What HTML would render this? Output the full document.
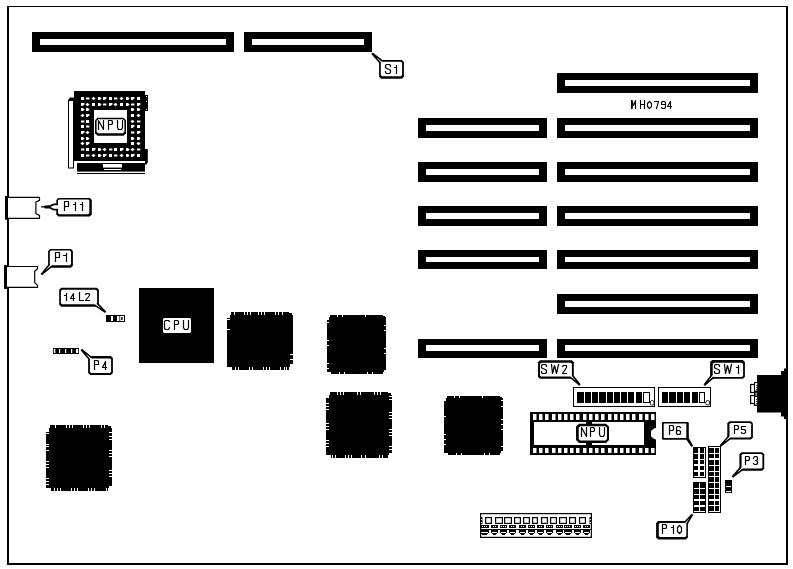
<!DOCTYPE html>
<html><head><meta charset="utf-8"><title>Motherboard layout</title>
<style>
html,body{margin:0;padding:0;background:#fff;}
body{width:793px;height:569px;overflow:hidden;font-family:"Liberation Sans",sans-serif;}
svg{display:block;}
</style></head><body>
<svg width="793" height="569" viewBox="0 0 793 569">
<rect x="0" y="0" width="793" height="569" fill="#fff"/>
<rect x="7" y="6" width="781" height="1" fill="#000" />
<rect x="7" y="6" width="2" height="559" fill="#000" />
<rect x="786" y="6" width="2" height="559" fill="#000" />
<rect x="7" y="563" width="781" height="2" fill="#000" />
<rect x="32" y="32" width="202" height="20" fill="#000" />
<rect x="40" y="39" width="186" height="6" fill="#fff" />
<rect x="244" y="32" width="128" height="20" fill="#000" />
<rect x="252" y="39" width="112" height="6" fill="#fff" />
<rect x="557" y="73" width="201" height="20" fill="#000" />
<rect x="565" y="80" width="185" height="6" fill="#fff" />
<rect x="557" y="118" width="201" height="20" fill="#000" />
<rect x="565" y="125" width="185" height="6" fill="#fff" />
<rect x="557" y="162" width="201" height="20" fill="#000" />
<rect x="565" y="169" width="185" height="6" fill="#fff" />
<rect x="557" y="206" width="201" height="20" fill="#000" />
<rect x="565" y="213" width="185" height="6" fill="#fff" />
<rect x="557" y="250" width="201" height="19" fill="#000" />
<rect x="565" y="257" width="185" height="5" fill="#fff" />
<rect x="557" y="294" width="201" height="20" fill="#000" />
<rect x="565" y="301" width="185" height="6" fill="#fff" />
<rect x="557" y="339" width="201" height="19" fill="#000" />
<rect x="565" y="345" width="185" height="6" fill="#fff" />
<rect x="418" y="118" width="129" height="20" fill="#000" />
<rect x="426" y="125" width="113" height="6" fill="#fff" />
<rect x="418" y="162" width="129" height="20" fill="#000" />
<rect x="426" y="169" width="113" height="6" fill="#fff" />
<rect x="418" y="206" width="129" height="20" fill="#000" />
<rect x="426" y="213" width="113" height="6" fill="#fff" />
<rect x="418" y="250" width="129" height="19" fill="#000" />
<rect x="426" y="257" width="113" height="5" fill="#fff" />
<rect x="418" y="339" width="129" height="19" fill="#000" />
<rect x="426" y="345" width="113" height="6" fill="#fff" />
<polygon points="231,312 289,312 289,313 292,313 292,315 293,315 293,365 290,365 290,367 289,367 289,370 232,370 232,367 227,367 227,318 230,318 230,315 231,315" fill="#000" />
<rect x="234" y="312" width="1" height="3" fill="#fff" />
<rect x="244" y="312" width="1" height="3" fill="#fff" />
<rect x="247" y="312" width="1" height="3" fill="#fff" />
<rect x="250" y="312" width="1" height="3" fill="#fff" />
<rect x="258" y="312" width="1" height="3" fill="#fff" />
<rect x="261" y="312" width="1" height="3" fill="#fff" />
<rect x="264" y="312" width="1" height="3" fill="#fff" />
<rect x="275" y="312" width="1" height="3" fill="#fff" />
<rect x="278" y="312" width="1" height="3" fill="#fff" />
<rect x="282" y="312" width="1" height="3" fill="#fff" />
<rect x="235" y="367" width="1" height="3" fill="#fff" />
<rect x="238" y="367" width="1" height="3" fill="#fff" />
<rect x="249" y="367" width="1" height="3" fill="#fff" />
<rect x="252" y="367" width="1" height="3" fill="#fff" />
<rect x="263" y="367" width="1" height="3" fill="#fff" />
<rect x="266" y="367" width="1" height="3" fill="#fff" />
<rect x="269" y="367" width="1" height="3" fill="#fff" />
<rect x="280" y="367" width="1" height="3" fill="#fff" />
<rect x="284" y="367" width="1" height="3" fill="#fff" />
<rect x="286" y="367" width="1" height="3" fill="#fff" />
<rect x="227" y="319" width="3" height="1" fill="#fff" />
<rect x="227" y="329" width="3" height="1" fill="#fff" />
<rect x="290" y="354" width="3" height="1" fill="#fff" />
<rect x="290" y="359" width="3" height="1" fill="#fff" />
<rect x="290" y="364" width="3" height="1" fill="#fff" />
<polygon points="330,315 383,315 383,316 385,316 385,317 386,317 386,370 384,370 384,372 383,372 383,374 331,374 331,372 327,372 327,320 329,320 329,317 330,317" fill="#000" />
<rect x="337" y="315" width="1" height="2" fill="#fff" />
<rect x="342" y="315" width="1" height="2" fill="#fff" />
<rect x="365" y="315" width="1" height="2" fill="#fff" />
<rect x="339" y="372" width="1" height="2" fill="#fff" />
<rect x="344" y="372" width="1" height="2" fill="#fff" />
<rect x="367" y="372" width="1" height="2" fill="#fff" />
<rect x="372" y="372" width="1" height="2" fill="#fff" />
<rect x="327" y="322" width="2" height="1" fill="#fff" />
<rect x="327" y="340" width="2" height="1" fill="#fff" />
<rect x="327" y="345" width="2" height="1" fill="#fff" />
<rect x="327" y="363" width="2" height="1" fill="#fff" />
<rect x="327" y="368" width="2" height="1" fill="#fff" />
<rect x="384" y="325" width="2" height="1" fill="#fff" />
<rect x="384" y="330" width="2" height="1" fill="#fff" />
<rect x="384" y="348" width="2" height="1" fill="#fff" />
<rect x="384" y="353" width="2" height="1" fill="#fff" />
<polygon points="330,392 388,392 388,393 391,393 391,395 392,395 392,453 389,453 389,455 388,455 388,458 331,458 331,455 326,455 326,398 329,398 329,395 330,395" fill="#000" />
<rect x="337" y="392" width="1" height="3" fill="#fff" />
<rect x="340" y="392" width="1" height="3" fill="#fff" />
<rect x="343" y="392" width="1" height="3" fill="#fff" />
<rect x="357" y="392" width="1" height="3" fill="#fff" />
<rect x="360" y="392" width="1" height="3" fill="#fff" />
<rect x="374" y="392" width="1" height="3" fill="#fff" />
<rect x="377" y="392" width="1" height="3" fill="#fff" />
<rect x="380" y="392" width="1" height="3" fill="#fff" />
<rect x="332" y="455" width="1" height="3" fill="#fff" />
<rect x="335" y="455" width="1" height="3" fill="#fff" />
<rect x="345" y="455" width="1" height="3" fill="#fff" />
<rect x="348" y="455" width="1" height="3" fill="#fff" />
<rect x="351" y="455" width="1" height="3" fill="#fff" />
<rect x="361" y="455" width="1" height="3" fill="#fff" />
<rect x="365" y="455" width="1" height="3" fill="#fff" />
<rect x="379" y="455" width="1" height="3" fill="#fff" />
<rect x="382" y="455" width="1" height="3" fill="#fff" />
<rect x="326" y="403" width="3" height="1" fill="#fff" />
<rect x="326" y="406" width="3" height="1" fill="#fff" />
<rect x="326" y="409" width="3" height="1" fill="#fff" />
<rect x="326" y="423" width="3" height="1" fill="#fff" />
<rect x="326" y="426" width="3" height="1" fill="#fff" />
<rect x="326" y="429" width="3" height="1" fill="#fff" />
<rect x="326" y="440" width="3" height="1" fill="#fff" />
<rect x="326" y="443" width="3" height="1" fill="#fff" />
<rect x="326" y="446" width="3" height="1" fill="#fff" />
<rect x="389" y="396" width="3" height="1" fill="#fff" />
<rect x="389" y="399" width="3" height="1" fill="#fff" />
<rect x="389" y="412" width="3" height="1" fill="#fff" />
<rect x="389" y="415" width="3" height="1" fill="#fff" />
<rect x="389" y="418" width="3" height="1" fill="#fff" />
<rect x="389" y="429" width="3" height="1" fill="#fff" />
<rect x="389" y="432" width="3" height="1" fill="#fff" />
<rect x="389" y="435" width="3" height="1" fill="#fff" />
<rect x="389" y="446" width="3" height="1" fill="#fff" />
<rect x="389" y="449" width="3" height="1" fill="#fff" />
<polygon points="447,396 500,396 500,397 502,397 502,398 503,398 503,451 501,451 501,453 500,453 500,455 448,455 448,453 444,453 444,401 446,401 446,398 447,398" fill="#000" />
<rect x="454" y="396" width="1" height="2" fill="#fff" />
<rect x="459" y="396" width="1" height="2" fill="#fff" />
<rect x="482" y="396" width="1" height="2" fill="#fff" />
<rect x="456" y="453" width="1" height="2" fill="#fff" />
<rect x="461" y="453" width="1" height="2" fill="#fff" />
<rect x="484" y="453" width="1" height="2" fill="#fff" />
<rect x="489" y="453" width="1" height="2" fill="#fff" />
<rect x="444" y="416" width="2" height="1" fill="#fff" />
<rect x="444" y="434" width="2" height="1" fill="#fff" />
<rect x="444" y="439" width="2" height="1" fill="#fff" />
<rect x="444" y="444" width="2" height="1" fill="#fff" />
<rect x="501" y="400" width="2" height="1" fill="#fff" />
<rect x="501" y="406" width="2" height="1" fill="#fff" />
<rect x="501" y="419" width="2" height="1" fill="#fff" />
<rect x="501" y="424" width="2" height="1" fill="#fff" />
<rect x="501" y="429" width="2" height="1" fill="#fff" />
<rect x="501" y="446" width="2" height="1" fill="#fff" />
<polygon points="50,425 108,425 108,426 111,426 111,428 112,428 112,486 109,486 109,488 108,488 108,491 51,491 51,488 46,488 46,431 49,431 49,428 50,428" fill="#000" />
<rect x="55" y="425" width="1" height="3" fill="#fff" />
<rect x="66" y="425" width="1" height="3" fill="#fff" />
<rect x="69" y="425" width="1" height="3" fill="#fff" />
<rect x="72" y="425" width="1" height="3" fill="#fff" />
<rect x="83" y="425" width="1" height="3" fill="#fff" />
<rect x="86" y="425" width="1" height="3" fill="#fff" />
<rect x="89" y="425" width="1" height="3" fill="#fff" />
<rect x="101" y="425" width="1" height="3" fill="#fff" />
<rect x="104" y="425" width="1" height="3" fill="#fff" />
<rect x="54" y="488" width="1" height="3" fill="#fff" />
<rect x="57" y="488" width="1" height="3" fill="#fff" />
<rect x="60" y="488" width="1" height="3" fill="#fff" />
<rect x="71" y="488" width="1" height="3" fill="#fff" />
<rect x="74" y="488" width="1" height="3" fill="#fff" />
<rect x="77" y="488" width="1" height="3" fill="#fff" />
<rect x="88" y="488" width="1" height="3" fill="#fff" />
<rect x="91" y="488" width="1" height="3" fill="#fff" />
<rect x="94" y="488" width="1" height="3" fill="#fff" />
<rect x="106" y="488" width="1" height="3" fill="#fff" />
<rect x="46" y="431" width="3" height="1" fill="#fff" />
<rect x="46" y="433" width="3" height="1" fill="#fff" />
<rect x="46" y="444" width="3" height="1" fill="#fff" />
<rect x="46" y="446" width="3" height="1" fill="#fff" />
<rect x="46" y="450" width="3" height="1" fill="#fff" />
<rect x="46" y="461" width="3" height="1" fill="#fff" />
<rect x="46" y="464" width="3" height="1" fill="#fff" />
<rect x="46" y="467" width="3" height="1" fill="#fff" />
<rect x="46" y="478" width="3" height="1" fill="#fff" />
<rect x="46" y="481" width="3" height="1" fill="#fff" />
<rect x="46" y="484" width="3" height="1" fill="#fff" />
<rect x="109" y="432" width="3" height="1" fill="#fff" />
<rect x="109" y="436" width="3" height="1" fill="#fff" />
<rect x="109" y="439" width="3" height="1" fill="#fff" />
<rect x="109" y="450" width="3" height="1" fill="#fff" />
<rect x="109" y="453" width="3" height="1" fill="#fff" />
<rect x="109" y="456" width="3" height="1" fill="#fff" />
<rect x="109" y="470" width="3" height="1" fill="#fff" />
<rect x="109" y="473" width="3" height="1" fill="#fff" />
<rect x="109" y="476" width="3" height="1" fill="#fff" />
<rect x="68" y="100" width="6" height="68.5" fill="#000" />
<rect x="69" y="101" width="4" height="66.5" fill="#fff" />
<polygon points="68,101 68,100 70,97.5 74,97.5 74,101" fill="#000" />
<rect x="74" y="91" width="71" height="70" fill="#000" />
<rect x="145" y="95" width="3" height="16" fill="#000" />
<rect x="145" y="149" width="2.8" height="14" fill="#000" />
<rect x="145" y="158" width="2" height="6.4" fill="#000" />
<rect x="146" y="96" width="1" height="1" fill="#fff" />
<rect x="146" y="101" width="1" height="1" fill="#fff" />
<rect x="146" y="109" width="1" height="1" fill="#fff" />
<rect x="81" y="97" width="3" height="3" fill="#fff" />
<rect x="86" y="97.5" width="3.4" height="2" fill="#fff" />
<polygon points="93.5,96.7 95.6,98.5 93.5,100.3 91.4,98.5" fill="#fff" />
<polygon points="98,97 100,97 101.6,98.5 100,100 98,100" fill="#fff" />
<polygon points="103,97 106.5,97 106.5,98.5 104.5,100 103,100" fill="#fff" />
<rect x="109" y="97" width="3" height="3" fill="#fff" />
<rect x="114" y="97.5" width="3.4" height="2" fill="#fff" />
<polygon points="121.5,96.7 123.6,98.5 121.5,100.3 119.4,98.5" fill="#fff" />
<polygon points="126,97 128,97 129.6,98.5 128,100 126,100" fill="#fff" />
<polygon points="131,97 134.5,97 134.5,98.5 132.5,100 131,100" fill="#fff" />
<rect x="137" y="97" width="3" height="3" fill="#fff" />
<polygon points="81,103 84.5,103 84.5,104.5 82.5,106 81,106" fill="#fff" />
<polygon points="87.5,102.7 89.6,104.5 87.5,106.3 85.4,104.5" fill="#fff" />
<rect x="92" y="103" width="3" height="3" fill="#fff" />
<polygon points="98,103 100,103 101.6,104.5 100,106 98,106" fill="#fff" />
<rect x="103" y="103.5" width="3.4" height="2" fill="#fff" />
<polygon points="109,103 112.5,103 112.5,104.5 110.5,106 109,106" fill="#fff" />
<polygon points="115.5,102.7 117.6,104.5 115.5,106.3 113.4,104.5" fill="#fff" />
<rect x="120" y="103" width="3" height="3" fill="#fff" />
<polygon points="126,103 128,103 129.6,104.5 128,106 126,106" fill="#fff" />
<rect x="131" y="103.5" width="3.4" height="2" fill="#fff" />
<polygon points="137,103 140.5,103 140.5,104.5 138.5,106 137,106" fill="#fff" />
<polygon points="81,108 83,108 84.6,109.5 83,111 81,111" fill="#fff" />
<polygon points="86,108 88,108 89.6,109.5 88,111 86,111" fill="#fff" />
<polygon points="131,108 133,108 134.6,109.5 133,111 131,111" fill="#fff" />
<polygon points="137,108 139,108 140.6,109.5 139,111 137,111" fill="#fff" />
<polygon points="82.5,113.7 84.6,115.5 82.5,117.3 80.4,115.5" fill="#fff" />
<polygon points="86,114 89.5,114 89.5,115.5 87.5,117 86,117" fill="#fff" />
<rect x="131" y="114" width="3" height="3" fill="#fff" />
<polygon points="138.5,113.7 140.6,115.5 138.5,117.3 136.4,115.5" fill="#fff" />
<rect x="81" y="120.5" width="3.4" height="2" fill="#fff" />
<rect x="86" y="120" width="3" height="3" fill="#fff" />
<polygon points="132.5,119.7 134.6,121.5 132.5,123.3 130.4,121.5" fill="#fff" />
<rect x="137" y="120.5" width="3.4" height="2" fill="#fff" />
<rect x="81" y="125" width="3" height="3" fill="#fff" />
<rect x="86" y="125.5" width="3.4" height="2" fill="#fff" />
<polygon points="131,125 134.5,125 134.5,126.5 132.5,128 131,128" fill="#fff" />
<rect x="137" y="125" width="3" height="3" fill="#fff" />
<polygon points="81,131 84.5,131 84.5,132.5 82.5,134 81,134" fill="#fff" />
<polygon points="87.5,130.7 89.6,132.5 87.5,134.3 85.4,132.5" fill="#fff" />
<rect x="131" y="131.5" width="3.4" height="2" fill="#fff" />
<polygon points="137,131 140.5,131 140.5,132.5 138.5,134 137,134" fill="#fff" />
<polygon points="81,137 83,137 84.6,138.5 83,140 81,140" fill="#fff" />
<polygon points="86,137 88,137 89.6,138.5 88,140 86,140" fill="#fff" />
<polygon points="131,137 133,137 134.6,138.5 133,140 131,140" fill="#fff" />
<polygon points="137,137 139,137 140.6,138.5 139,140 137,140" fill="#fff" />
<polygon points="82.5,141.7 84.6,143.5 82.5,145.3 80.4,143.5" fill="#fff" />
<polygon points="86,142 89.5,142 89.5,143.5 87.5,145 86,145" fill="#fff" />
<rect x="131" y="142" width="3" height="3" fill="#fff" />
<polygon points="138.5,141.7 140.6,143.5 138.5,145.3 136.4,143.5" fill="#fff" />
<rect x="81" y="148.5" width="3.4" height="2" fill="#fff" />
<rect x="86" y="148" width="3" height="3" fill="#fff" />
<polygon points="92,148 95.5,148 95.5,149.5 93.5,151 92,151" fill="#fff" />
<polygon points="98,148 100,148 101.6,149.5 100,151 98,151" fill="#fff" />
<polygon points="104.5,147.7 106.6,149.5 104.5,151.3 102.4,149.5" fill="#fff" />
<rect x="109" y="148.5" width="3.4" height="2" fill="#fff" />
<rect x="114" y="148" width="3" height="3" fill="#fff" />
<polygon points="120,148 123.5,148 123.5,149.5 121.5,151 120,151" fill="#fff" />
<polygon points="126,148 128,148 129.6,149.5 128,151 126,151" fill="#fff" />
<polygon points="132.5,147.7 134.6,149.5 132.5,151.3 130.4,149.5" fill="#fff" />
<rect x="137" y="148.5" width="3.4" height="2" fill="#fff" />
<rect x="81" y="154" width="3" height="3" fill="#fff" />
<rect x="86" y="154.5" width="3.4" height="2" fill="#fff" />
<polygon points="93.5,153.7 95.6,155.5 93.5,157.3 91.4,155.5" fill="#fff" />
<polygon points="98,154 100,154 101.6,155.5 100,157 98,157" fill="#fff" />
<polygon points="103,154 106.5,154 106.5,155.5 104.5,157 103,157" fill="#fff" />
<rect x="109" y="154" width="3" height="3" fill="#fff" />
<rect x="114" y="154.5" width="3.4" height="2" fill="#fff" />
<polygon points="121.5,153.7 123.6,155.5 121.5,157.3 119.4,155.5" fill="#fff" />
<polygon points="126,154 128,154 129.6,155.5 128,157 126,157" fill="#fff" />
<polygon points="131,154 134.5,154 134.5,155.5 132.5,157 131,157" fill="#fff" />
<rect x="137" y="154" width="3" height="3" fill="#fff" />
<rect x="94" y="110" width="33" height="33" fill="#fff" />
<rect x="77" y="163" width="68" height="8.6" fill="#000" />
<rect x="103" y="164" width="19" height="3.6" fill="#fff" />
<rect x="104" y="169" width="17" height="1" fill="#fff" />
<rect x="77" y="173" width="68" height="1" fill="#000" />
<polygon points="97.5,117.7 123.5,117.7 126,120.2 126,133.3 123.5,135.8 97.5,135.8 95,133.3 95,120.2" fill="#000" />
<polygon points="98.1,119.3 122.9,119.3 124.4,120.8 124.4,131.7 122.9,133.2 98.1,133.2 96.6,131.7 96.6,120.8" fill="#fff" />
<path d="M98.5,129.5 L98.5,120.5 L103.5,129.5 L103.5,120.5 M108.5,129.5 L108.5,120.5 L111.5,120.5 L112.5,121.5 L112.5,123.5 L111.5,124.5 L108.5,124.5 M117.5,120.5 L117.5,127.5 L118.5,129.5 L121.5,129.5 L122.5,127.5 L122.5,120.5" fill="none" stroke="#000" stroke-width="1.2" stroke-linejoin="round" stroke-linecap="square"/>
<rect x="8" y="197.4" width="32" height="21" fill="#fff" />
<polyline points="8,197.4 39.5,197.4 39.5,200.4 35.9,202 35.9,213.8 39.5,215.4 39.5,218.4 8,218.4" fill="#fff" stroke="#000" stroke-width="1.2" stroke-linejoin="round"/>
<rect x="5" y="196" width="3" height="23.7" fill="#000" />
<rect x="7" y="266.5" width="31" height="20.9" fill="#fff" />
<polyline points="7,266.5 37.5,266.5 37.5,268.7 34.7,271.3 34.7,282.6 37.5,285.2 37.5,287.4 7,287.4" fill="#fff" stroke="#000" stroke-width="1.2" stroke-linejoin="round"/>
<rect x="4" y="265.1" width="3" height="23.8" fill="#000" />
<rect x="106" y="315" width="19" height="7" fill="#000" />
<rect x="111" y="316" width="2" height="5" fill="#fff" />
<rect x="117" y="316" width="2.4" height="5" fill="#fff" />
<rect x="120.2" y="316" width="3.8" height="5" fill="#fff" />
<rect x="121.2" y="317" width="1.4" height="3" fill="#000" />
<rect x="53" y="348" width="26" height="6" fill="#000" />
<rect x="53.8" y="349" width="1.5" height="4" fill="#fff" />
<rect x="59" y="349" width="1.2" height="4" fill="#fff" />
<rect x="65" y="349" width="1.2" height="4" fill="#fff" />
<rect x="71" y="349" width="1.2" height="4" fill="#fff" />
<rect x="76" y="349" width="2.2" height="4" fill="#fff" />
<rect x="139" y="288" width="75" height="75" fill="#000" />
<polygon points="164,318 190,318 191,319 191,332 190,333 164,333 163,332 163,319" fill="#fff" />
<path d="M169.5,321.5 L168.5,320.5 L165.5,320.5 L164.5,321.5 L164.5,328.5 L165.5,329.5 L168.5,329.5 L169.5,327.5 M174.5,329.5 L174.5,320.5 L177.5,320.5 L178.5,321.5 L178.5,323.5 L177.5,324.5 L174.5,324.5 M183.5,320.5 L183.5,327.5 L184.5,329.5 L187.5,329.5 L188.5,327.5 L188.5,320.5" fill="none" stroke="#000" stroke-width="1.2" stroke-linejoin="round" stroke-linecap="square"/>
<rect x="573.5" y="387.5" width="81.0" height="19.0" fill="#fff" stroke="#000" stroke-width="1"/>
<rect x="577" y="392" width="7" height="11" fill="#000" />
<rect x="585" y="392" width="6" height="11" fill="#000" />
<rect x="592" y="392" width="6" height="11" fill="#000" />
<rect x="599" y="392" width="7" height="11" fill="#000" />
<rect x="607" y="392" width="6" height="11" fill="#000" />
<rect x="614" y="392" width="6" height="11" fill="#000" />
<rect x="621" y="392" width="6" height="11" fill="#000" />
<rect x="628" y="392" width="6" height="11" fill="#000" />
<rect x="636" y="392" width="6" height="11" fill="#000" />
<rect x="643.5" y="392.5" width="6" height="10" fill="#fff" stroke="#000" stroke-width="1"/>
<rect x="650.3" y="400.6" width="3.6" height="4.4" rx="1.3" fill="#fff" stroke="#000" stroke-width="0.9"/>
<rect x="658.5" y="387.5" width="52.0" height="19.0" fill="#fff" stroke="#000" stroke-width="1"/>
<rect x="662" y="392" width="6" height="11" fill="#000" />
<rect x="669" y="392" width="7" height="11" fill="#000" />
<rect x="677" y="392" width="6" height="11" fill="#000" />
<rect x="684" y="392" width="6" height="11" fill="#000" />
<rect x="692" y="392" width="6" height="11" fill="#000" />
<rect x="699.5" y="392.5" width="5" height="10" fill="#fff" stroke="#000" stroke-width="1"/>
<rect x="705.9" y="400.6" width="3.6" height="4.4" rx="1.3" fill="#fff" stroke="#000" stroke-width="0.9"/>
<rect x="530" y="412" width="126" height="43" fill="#000" />
<rect x="534" y="422" width="110" height="23" fill="#fff" />
<polygon points="656.5,427.7 654,428.6 651,431 651,436.4 654,438.8 656.5,439.7" fill="#fff" />
<rect x="533" y="414" width="3.5" height="6" fill="#fff" />
<rect x="533" y="448" width="3.5" height="5" fill="#fff" />
<rect x="539" y="414" width="3.5" height="6" fill="#fff" />
<rect x="539" y="448" width="3.5" height="5" fill="#fff" />
<rect x="545" y="414" width="3.5" height="6" fill="#fff" />
<rect x="545" y="448" width="3.5" height="5" fill="#fff" />
<rect x="552" y="414" width="3.5" height="6" fill="#fff" />
<rect x="552" y="448" width="3.5" height="5" fill="#fff" />
<rect x="558" y="414" width="3.5" height="6" fill="#fff" />
<rect x="558" y="448" width="3.5" height="5" fill="#fff" />
<rect x="564" y="414" width="3.5" height="6" fill="#fff" />
<rect x="564" y="448" width="3.5" height="5" fill="#fff" />
<rect x="570" y="414" width="3.5" height="6" fill="#fff" />
<rect x="570" y="448" width="3.5" height="5" fill="#fff" />
<rect x="576" y="414" width="3.5" height="6" fill="#fff" />
<rect x="576" y="448" width="3.5" height="5" fill="#fff" />
<rect x="583" y="414" width="3.5" height="6" fill="#fff" />
<rect x="583" y="448" width="3.5" height="5" fill="#fff" />
<rect x="589" y="414" width="3.5" height="6" fill="#fff" />
<rect x="589" y="448" width="3.5" height="5" fill="#fff" />
<rect x="595" y="414" width="3.5" height="6" fill="#fff" />
<rect x="595" y="448" width="3.5" height="5" fill="#fff" />
<rect x="601" y="414" width="3.5" height="6" fill="#fff" />
<rect x="601" y="448" width="3.5" height="5" fill="#fff" />
<rect x="608" y="414" width="3.5" height="6" fill="#fff" />
<rect x="608" y="448" width="3.5" height="5" fill="#fff" />
<rect x="614" y="414" width="3.5" height="6" fill="#fff" />
<rect x="614" y="448" width="3.5" height="5" fill="#fff" />
<rect x="620" y="414" width="3.5" height="6" fill="#fff" />
<rect x="620" y="448" width="3.5" height="5" fill="#fff" />
<rect x="626" y="414" width="3.5" height="6" fill="#fff" />
<rect x="626" y="448" width="3.5" height="5" fill="#fff" />
<rect x="632" y="414" width="3.5" height="6" fill="#fff" />
<rect x="632" y="448" width="3.5" height="5" fill="#fff" />
<rect x="639" y="414" width="3.5" height="6" fill="#fff" />
<rect x="639" y="448" width="3.5" height="5" fill="#fff" />
<rect x="645" y="414" width="3.5" height="6" fill="#fff" />
<rect x="645" y="448" width="3.5" height="5" fill="#fff" />
<rect x="651" y="414" width="3.5" height="6" fill="#fff" />
<rect x="651" y="448" width="3.5" height="5" fill="#fff" />
<rect x="586" y="420" width="6" height="6" fill="#000" />
<rect x="586" y="441" width="6" height="6" fill="#000" />
<polygon points="579,423.8 606,423.8 609,426.8 609,440 606,443 579,443 576,440 576,426.8" fill="#000" />
<polygon points="580.2,426.2 605.5,426.2 607,427.7 607,439.1 605.5,440.6 580.2,440.6 578.7,439.1 578.7,427.7" fill="#fff" />
<path d="M581.5,436.5 L581.5,427.5 L586.5,436.5 L586.5,427.5 M590.5,436.5 L590.5,427.5 L593.5,427.5 L594.5,428.5 L594.5,430.5 L593.5,431.5 L590.5,431.5 M599.5,427.5 L599.5,434.5 L600.5,436.5 L603.5,436.5 L604.5,434.5 L604.5,427.5" fill="none" stroke="#000" stroke-width="1.2" stroke-linejoin="round" stroke-linecap="square"/>
<rect x="757" y="375" width="24" height="37.5" fill="#000" />
<rect x="781" y="371" width="3" height="45.5" fill="#000" />
<rect x="784" y="368.5" width="3" height="50.5" fill="#000" />
<rect x="754" y="382" width="3.5" height="24" fill="#000" />
<rect x="750.6" y="384.5" width="4" height="8" fill="#fff" stroke="#000" stroke-width="1.2"/>
<rect x="750.6" y="395.5" width="4" height="8" fill="#fff" stroke="#000" stroke-width="1.2"/>
<rect x="755" y="383" width="2.2" height="7.6" fill="#fff" />
<rect x="755" y="397" width="2.2" height="7.6" fill="#fff" />
<rect x="756.2" y="385" width="1" height="1" fill="#000" />
<rect x="756.2" y="387" width="1" height="1" fill="#000" />
<rect x="756.2" y="389" width="1" height="1" fill="#000" />
<rect x="756.2" y="399" width="1" height="1" fill="#000" />
<rect x="756.2" y="401" width="1" height="1" fill="#000" />
<rect x="756.2" y="403" width="1" height="1" fill="#000" />
<rect x="755.6" y="392.6" width="1" height="3.2" fill="#fff" />
<rect x="693" y="447" width="13" height="31" fill="#000" />
<rect x="704" y="448" width="1" height="29" fill="#fff" />
<rect x="698" y="448" width="2" height="29" fill="#fff" />
<rect x="694" y="453" width="11" height="1" fill="#fff" />
<rect x="694" y="459" width="11" height="1" fill="#fff" />
<rect x="694" y="464" width="11" height="2" fill="#fff" />
<rect x="694" y="470" width="11" height="2" fill="#fff" />
<rect x="694" y="476" width="11" height="1" fill="#fff" />
<rect x="693" y="482" width="13" height="31" fill="#000" />
<rect x="699" y="483" width="1" height="29" fill="#fff" />
<rect x="694" y="488" width="11" height="1" fill="#fff" />
<rect x="694" y="494" width="11" height="1" fill="#fff" />
<rect x="694" y="499" width="11" height="2" fill="#fff" />
<rect x="694" y="505" width="11" height="2" fill="#fff" />
<rect x="694" y="511" width="11" height="1" fill="#fff" />
<rect x="708" y="446" width="13" height="67" fill="#000" />
<rect x="719" y="447" width="1" height="65" fill="#fff" />
<rect x="709" y="447" width="11" height="1" fill="#fff" />
<rect x="714" y="447" width="1" height="65" fill="#fff" />
<rect x="709" y="453" width="11" height="1" fill="#fff" />
<rect x="709" y="458" width="11" height="2" fill="#fff" />
<rect x="709" y="465" width="11" height="1" fill="#fff" />
<rect x="709" y="471" width="11" height="1" fill="#fff" />
<rect x="709" y="476" width="11" height="1" fill="#fff" />
<rect x="709" y="482" width="11" height="1" fill="#fff" />
<rect x="709" y="488" width="11" height="1" fill="#fff" />
<rect x="709" y="494" width="11" height="1" fill="#fff" />
<rect x="709" y="499" width="11" height="2" fill="#fff" />
<rect x="709" y="505" width="11" height="1" fill="#fff" />
<rect x="709" y="511" width="11" height="1" fill="#fff" />
<rect x="725" y="480" width="7" height="13" fill="#000" />
<rect x="726" y="486" width="5" height="1.1" fill="#fff" />
<rect x="726" y="491" width="5" height="1.1" fill="#fff" />
<rect x="480.6" y="513.6" width="110.8" height="23.8" fill="#fff" stroke="#000" stroke-width="1.2"/>
<rect x="480" y="529" width="112" height="1" fill="#000" />
<rect x="480" y="517" width="2.5" height="7" fill="#000" />
<rect x="481.2" y="519" width="1" height="1" fill="#fff" />
<rect x="481.2" y="522" width="1" height="1" fill="#fff" />
<rect x="589.5" y="517" width="2.5" height="7" fill="#000" />
<rect x="589.8" y="519" width="1" height="1" fill="#fff" />
<rect x="589.8" y="522" width="1" height="1" fill="#fff" />
<rect x="485.6" y="517.6" width="5.8" height="5.8" fill="#fff" stroke="#000" stroke-width="1.2"/>
<rect x="495.6" y="517.6" width="6.8" height="5.8" fill="#fff" stroke="#000" stroke-width="1.2"/>
<rect x="504.6" y="517.6" width="6.8" height="5.8" fill="#fff" stroke="#000" stroke-width="1.2"/>
<rect x="514.6" y="517.6" width="5.8" height="5.8" fill="#fff" stroke="#000" stroke-width="1.2"/>
<rect x="523.6" y="517.6" width="5.8" height="5.8" fill="#fff" stroke="#000" stroke-width="1.2"/>
<rect x="532.6" y="517.6" width="4.8" height="5.8" fill="#fff" stroke="#000" stroke-width="1.2"/>
<rect x="541.6" y="517.6" width="5.8" height="5.8" fill="#fff" stroke="#000" stroke-width="1.2"/>
<rect x="550.6" y="517.6" width="5.8" height="5.8" fill="#fff" stroke="#000" stroke-width="1.2"/>
<rect x="559.6" y="517.6" width="6.8" height="5.8" fill="#fff" stroke="#000" stroke-width="1.2"/>
<rect x="569.6" y="517.6" width="5.8" height="5.8" fill="#fff" stroke="#000" stroke-width="1.2"/>
<rect x="579.6" y="517.6" width="5.8" height="5.8" fill="#fff" stroke="#000" stroke-width="1.2"/>
<rect x="480" y="525" width="9" height="3" fill="#000" />
<rect x="482" y="526" width="1" height="1" fill="#fff" />
<rect x="484" y="526" width="1" height="1" fill="#fff" />
<rect x="486" y="526" width="1" height="1" fill="#fff" />
<rect x="480" y="530" width="9" height="2" fill="#000" />
<rect x="480" y="532" width="1" height="1" fill="#000" />
<rect x="488" y="532" width="1" height="1" fill="#000" />
<rect x="481" y="533" width="7" height="1" fill="#000" />
<rect x="482" y="534" width="5" height="1" fill="#000" />
<rect x="491" y="525" width="7" height="3" fill="#000" />
<rect x="493" y="526" width="1" height="1" fill="#fff" />
<rect x="495" y="526" width="1" height="1" fill="#fff" />
<rect x="491" y="530" width="7" height="2" fill="#000" />
<rect x="491" y="532" width="1" height="1" fill="#000" />
<rect x="497" y="532" width="1" height="1" fill="#000" />
<rect x="492" y="533" width="5" height="1" fill="#000" />
<rect x="493" y="534" width="3" height="1" fill="#000" />
<rect x="500" y="525" width="7" height="3" fill="#000" />
<rect x="501" y="526" width="1" height="1" fill="#fff" />
<rect x="503" y="526" width="1" height="1" fill="#fff" />
<rect x="505" y="526" width="1" height="1" fill="#fff" />
<rect x="500" y="530" width="7" height="2" fill="#000" />
<rect x="500" y="532" width="1" height="1" fill="#000" />
<rect x="506" y="532" width="1" height="1" fill="#000" />
<rect x="501" y="533" width="5" height="1" fill="#000" />
<rect x="502" y="534" width="3" height="1" fill="#000" />
<rect x="509" y="525" width="7" height="3" fill="#000" />
<rect x="511" y="526" width="1" height="1" fill="#fff" />
<rect x="513" y="526" width="1" height="1" fill="#fff" />
<rect x="509" y="530" width="7" height="2" fill="#000" />
<rect x="509" y="532" width="1" height="1" fill="#000" />
<rect x="515" y="532" width="1" height="1" fill="#000" />
<rect x="510" y="533" width="5" height="1" fill="#000" />
<rect x="511" y="534" width="3" height="1" fill="#000" />
<rect x="519" y="525" width="7" height="3" fill="#000" />
<rect x="521" y="526" width="1" height="1" fill="#fff" />
<rect x="523" y="526" width="1" height="1" fill="#fff" />
<rect x="519" y="530" width="7" height="2" fill="#000" />
<rect x="519" y="532" width="1" height="1" fill="#000" />
<rect x="525" y="532" width="1" height="1" fill="#000" />
<rect x="520" y="533" width="5" height="1" fill="#000" />
<rect x="521" y="534" width="3" height="1" fill="#000" />
<rect x="528" y="525" width="7" height="3" fill="#000" />
<rect x="529" y="526" width="1" height="1" fill="#fff" />
<rect x="531" y="526" width="1" height="1" fill="#fff" />
<rect x="533" y="526" width="1" height="1" fill="#fff" />
<rect x="528" y="530" width="7" height="2" fill="#000" />
<rect x="528" y="532" width="1" height="1" fill="#000" />
<rect x="534" y="532" width="1" height="1" fill="#000" />
<rect x="529" y="533" width="5" height="1" fill="#000" />
<rect x="530" y="534" width="3" height="1" fill="#000" />
<rect x="537" y="525" width="7" height="3" fill="#000" />
<rect x="539" y="526" width="1" height="1" fill="#fff" />
<rect x="541" y="526" width="1" height="1" fill="#fff" />
<rect x="537" y="530" width="7" height="2" fill="#000" />
<rect x="537" y="532" width="1" height="1" fill="#000" />
<rect x="543" y="532" width="1" height="1" fill="#000" />
<rect x="538" y="533" width="5" height="1" fill="#000" />
<rect x="539" y="534" width="3" height="1" fill="#000" />
<rect x="546" y="525" width="7" height="3" fill="#000" />
<rect x="547" y="526" width="1" height="1" fill="#fff" />
<rect x="549" y="526" width="1" height="1" fill="#fff" />
<rect x="551" y="526" width="1" height="1" fill="#fff" />
<rect x="546" y="530" width="7" height="2" fill="#000" />
<rect x="546" y="532" width="1" height="1" fill="#000" />
<rect x="552" y="532" width="1" height="1" fill="#000" />
<rect x="547" y="533" width="5" height="1" fill="#000" />
<rect x="548" y="534" width="3" height="1" fill="#000" />
<rect x="556" y="525" width="7" height="3" fill="#000" />
<rect x="557" y="526" width="1" height="1" fill="#fff" />
<rect x="559" y="526" width="1" height="1" fill="#fff" />
<rect x="561" y="526" width="1" height="1" fill="#fff" />
<rect x="556" y="530" width="7" height="2" fill="#000" />
<rect x="556" y="532" width="1" height="1" fill="#000" />
<rect x="562" y="532" width="1" height="1" fill="#000" />
<rect x="557" y="533" width="5" height="1" fill="#000" />
<rect x="558" y="534" width="3" height="1" fill="#000" />
<rect x="564" y="525" width="8" height="3" fill="#000" />
<rect x="565" y="526" width="1" height="1" fill="#fff" />
<rect x="567" y="526" width="1" height="1" fill="#fff" />
<rect x="569" y="526" width="1" height="1" fill="#fff" />
<rect x="564" y="530" width="8" height="2" fill="#000" />
<rect x="564" y="532" width="1" height="1" fill="#000" />
<rect x="571" y="532" width="1" height="1" fill="#000" />
<rect x="565" y="533" width="6" height="1" fill="#000" />
<rect x="566" y="534" width="4" height="1" fill="#000" />
<rect x="574" y="525" width="7" height="3" fill="#000" />
<rect x="575" y="526" width="1" height="1" fill="#fff" />
<rect x="577" y="526" width="1" height="1" fill="#fff" />
<rect x="579" y="526" width="1" height="1" fill="#fff" />
<rect x="574" y="530" width="7" height="2" fill="#000" />
<rect x="574" y="532" width="1" height="1" fill="#000" />
<rect x="580" y="532" width="1" height="1" fill="#000" />
<rect x="575" y="533" width="5" height="1" fill="#000" />
<rect x="576" y="534" width="3" height="1" fill="#000" />
<rect x="583" y="525" width="7" height="3" fill="#000" />
<rect x="585" y="526" width="1" height="1" fill="#fff" />
<rect x="587" y="526" width="1" height="1" fill="#fff" />
<rect x="583" y="530" width="7" height="2" fill="#000" />
<rect x="583" y="532" width="1" height="1" fill="#000" />
<rect x="589" y="532" width="1" height="1" fill="#000" />
<rect x="584" y="533" width="5" height="1" fill="#000" />
<rect x="585" y="534" width="3" height="1" fill="#000" />
<polygon points="381.1,60.1 401.9,60.1 403.9,62.1 403.9,76.8 401.9,78.8 381.1,78.8 379.1,76.8 379.1,62.1" fill="#000" />
<polygon points="383.67,61.0578 380.511,64.4021 371.313,53.927 372.687,52.473" fill="#000" />
<polygon points="382,61.8 400.9,61.8 402.1,63 402.1,75 400.9,76.2 382,76.2 380.8,75 380.8,63" fill="#fff" />
<polygon points="383.696,63.2146 382.666,64.3051 377.117,58.2391 377.323,58.0209" fill="#fff" />
<path d="M390.5,66.5 L390.5,65.5 L389.5,64.5 L386.5,64.5 L385.5,65.5 L385.5,67.5 L386.5,68.5 L389.5,69.5 L390.5,70.5 L390.5,72.5 L389.5,73.5 L386.5,73.5 L385.5,72.5 L385.5,71.5 M394.5,67.5 L396.5,67.5 M396.5,65.5 L396.5,73.5" fill="none" stroke="#000" stroke-width="1.2" stroke-linejoin="round" stroke-linecap="square"/>
<polygon points="58.3,197.9 89.8,197.9 91.8,199.9 91.8,214.5 89.8,216.5 58.3,216.5 56.3,214.5 56.3,199.9" fill="#000" />
<polygon points="59.2,199.4 88.1,199.4 89.3,200.6 89.3,213 88.1,214.2 59.2,214.2 58,213 58,200.6" fill="#fff" />
<polygon points="41,206.2 44,206.2 45,205.5 49.5,205.3 53.5,203.6 57.5,203.6 57.5,210.5 53.5,210.5 49.5,208.6 45,208.4 44,207.6 41,207.6" fill="#000" />
<polygon points="50.3,207 54,205.3 58.5,205.3 58.5,208.8 54,208.8" fill="#fff" />
<path d="M64.5,210.5 L64.5,201.5 L68.5,201.5 L68.5,202.5 L68.5,204.5 L68.5,206.5 L64.5,206.5 M73.5,204.5 L75.5,204.5 M75.5,202.5 L75.5,210.5 M80.5,204.5 L82.5,204.5 M82.5,202.5 L82.5,210.5" fill="none" stroke="#000" stroke-width="1.2" stroke-linejoin="round" stroke-linecap="square"/>
<polygon points="50.1,248.9 70.9,248.9 72.9,250.9 72.9,265.8 70.9,267.8 50.1,267.8 48.1,265.8 48.1,250.9" fill="#000" />
<polygon points="49.4499,263.31 52.6837,266.581 42.003,275.311 40.597,273.889" fill="#000" />
<polygon points="51,250.6 69.8,250.6 71,251.8 71,264 69.8,265.2 51,265.2 49.8,264 49.8,251.8" fill="#fff" />
<polygon points="51.6063,263.358 52.6608,264.424 46.4515,269.719 46.2405,269.505" fill="#fff" />
<path d="M55.5,261.5 L55.5,252.5 L59.5,252.5 L59.5,253.5 L59.5,256.5 L59.5,257.5 L55.5,257.5 M63.5,255.5 L66.5,255.5 M66.5,253.5 L66.5,261.5" fill="none" stroke="#000" stroke-width="1.2" stroke-linejoin="round" stroke-linecap="square"/>
<polygon points="61.2,287.8 96.9,287.8 98.9,289.8 98.9,304.75 96.9,306.75 61.2,306.75 59.2,304.75 59.2,289.8" fill="#000" />
<polygon points="94.368,305.783 97.3448,302.276 106.247,311.538 104.953,313.062" fill="#000" />
<polygon points="62.1,289.8 95.9,289.8 97.1,291 97.1,303.05 95.9,304.25 62.1,304.25 60.9,303.05 60.9,291" fill="#fff" />
<polygon points="94.2275,303.63 95.1982,302.487 100.709,307.952 100.515,308.18" fill="#fff" />
<path d="M64.5,295.5 L66.5,295.5 M66.5,293.5 L66.5,300.5 M73.5,300.5 L73.5,293.5 L70.5,298.5 L74.5,298.5 M79.5,292.5 L79.5,300.5 L83.5,300.5 M85.5,294.5 L86.5,293.5 L88.5,293.5 L89.5,294.5 L89.5,295.5 L85.5,300.5 L89.5,300.5" fill="none" stroke="#000" stroke-width="1.2" stroke-linejoin="round" stroke-linecap="square"/>
<polygon points="90.1,356 110.9,356 112.9,358 112.9,372.9 110.9,374.9 90.1,374.9 88.1,372.9 88.1,358" fill="#000" />
<polygon points="92.6802,357.403 89.4656,360.693 80.6012,350.215 81.9988,348.785" fill="#000" />
<polygon points="91.1,358.4 109.9,358.4 111.1,359.6 111.1,371.7 109.9,372.9 91.1,372.9 89.9,371.7 89.9,359.6" fill="#fff" />
<polygon points="92.67,359.56 91.6217,360.633 86.2412,354.537 86.4508,354.323" fill="#fff" />
<path d="M94.5,369.5 L94.5,360.5 L97.5,360.5 L98.5,361.5 L98.5,364.5 L97.5,364.5 L94.5,364.5 M105.5,369.5 L105.5,361.5 L102.5,367.5 L106.5,367.5" fill="none" stroke="#000" stroke-width="1.2" stroke-linejoin="round" stroke-linecap="square"/>
<polygon points="540,360.2 571.8,360.2 573.8,362.2 573.8,376.7 571.8,378.7 540,378.7 538,376.7 538,362.2" fill="#000" />
<polygon points="569.313,377.566 572.566,374.313 580.707,384.293 579.293,385.707" fill="#000" />
<polygon points="541.2,362.7 570.7,362.7 571.9,363.9 571.9,375.4 570.7,376.6 541.2,376.6 540,375.4 540,363.9" fill="#fff" />
<polygon points="569.348,375.409 570.409,374.348 575.466,380.254 575.254,380.466" fill="#fff" />
<path d="M546.5,366.5 L546.5,365.5 L545.5,364.5 L542.5,364.5 L541.5,365.5 L541.5,367.5 L542.5,368.5 L545.5,369.5 L546.5,370.5 L546.5,372.5 L545.5,373.5 L542.5,373.5 L541.5,372.5 L541.5,371.5 M551.5,364.5 L552.5,373.5 L554.5,365.5 L556.5,373.5 L558.5,364.5 M562.5,366.5 L563.5,365.5 L566.5,365.5 L566.5,366.5 L566.5,367.5 L562.5,373.5 L566.5,373.5" fill="none" stroke="#000" stroke-width="1.2" stroke-linejoin="round" stroke-linecap="square"/>
<polygon points="712.1,360.1 742.9,360.1 744.9,362.1 744.9,376.7 742.9,378.7 712.1,378.7 710.1,376.7 710.1,362.1" fill="#000" />
<polygon points="711.367,374.328 714.7,377.498 704.925,385.889 703.475,384.511" fill="#000" />
<polygon points="713.9,362.7 741.9,362.7 743.1,363.9 743.1,375.7 741.9,376.9 713.9,376.9 712.7,375.7 712.7,363.9" fill="#fff" />
<polygon points="713.524,374.309 714.611,375.343 708.833,380.547 708.615,380.341" fill="#fff" />
<path d="M719.5,366.5 L719.5,365.5 L718.5,364.5 L715.5,364.5 L714.5,365.5 L714.5,367.5 L715.5,368.5 L718.5,369.5 L719.5,370.5 L719.5,372.5 L718.5,373.5 L715.5,373.5 L714.5,372.5 L714.5,371.5 M724.5,364.5 L725.5,373.5 L727.5,365.5 L729.5,373.5 L731.5,364.5 M736.5,367.5 L738.5,367.5 M738.5,365.5 L738.5,373.5" fill="none" stroke="#000" stroke-width="1.2" stroke-linejoin="round" stroke-linecap="square"/>
<polygon points="662.8,421.9 688,421.9 688.8,422.7 688.8,439 688,439.8 662.8,439.8 662,439 662,422.7" fill="#000" />
<polygon points="685.146,438.088 687.85,436.377 693.145,445.865 691.455,446.935" fill="#000" />
<polygon points="664,423.6 686,423.6 686.3,423.9 686.3,437.6 686,437.9 664,437.9 663.7,437.6 663.7,423.9" fill="#fff" />
<path d="M669.5,434.5 L669.5,425.5 L672.5,425.5 L673.5,426.5 L673.5,429.5 L672.5,430.5 L669.5,430.5 M680.5,427.5 L679.5,426.5 L677.5,426.5 L676.5,427.5 L676.5,433.5 L677.5,434.5 L679.5,434.5 L680.5,433.5 L680.5,431.5 L679.5,430.5 L677.5,430.5 L676.5,431.5" fill="none" stroke="#000" stroke-width="1.2" stroke-linejoin="round" stroke-linecap="square"/>
<polygon points="729.3,421.2 750.9,421.2 752.9,423.2 752.9,437.6 750.9,439.6 729.3,439.6 727.3,437.6 727.3,423.2" fill="#000" />
<polygon points="728.712,434.998 731.87,438.343 720.986,446.827 719.614,445.373" fill="#000" />
<polygon points="730.7,423 749.9,423 751.1,424.2 751.1,436.2 749.9,437.4 730.7,437.4 729.5,436.2 729.5,424.2" fill="#fff" />
<polygon points="730.867,435.095 731.897,436.186 725.565,441.337 725.359,441.119" fill="#fff" />
<path d="M734.5,433.5 L734.5,425.5 L737.5,425.5 L738.5,426.5 L738.5,428.5 L737.5,429.5 L734.5,429.5 M745.5,426.5 L741.5,426.5 L741.5,429.5 L742.5,429.5 L744.5,429.5 L745.5,430.5 L745.5,432.5 L744.5,433.5 L742.5,433.5 L741.5,432.5" fill="none" stroke="#000" stroke-width="1.2" stroke-linejoin="round" stroke-linecap="square"/>
<polygon points="741.4,452.3 762.2,452.3 764.2,454.3 764.2,468.7 762.2,470.7 741.4,470.7 739.4,468.7 739.4,454.3" fill="#000" />
<polygon points="740.843,466.092 743.962,469.474 732.978,477.835 731.622,476.365" fill="#000" />
<polygon points="742.8,454.1 761.2,454.1 762.4,455.3 762.4,467.3 761.2,468.5 742.8,468.5 741.6,467.3 741.6,455.3" fill="#fff" />
<polygon points="742.997,466.215 744.014,467.318 737.622,472.396 737.418,472.176" fill="#fff" />
<path d="M745.5,464.5 L745.5,456.5 L748.5,456.5 L749.5,457.5 L749.5,459.5 L748.5,460.5 L745.5,460.5 M753.5,458.5 L754.5,456.5 L756.5,456.5 L757.5,457.5 L757.5,459.5 L756.5,460.5 L755.5,460.5 M756.5,460.5 L757.5,461.5 L757.5,463.5 L756.5,464.5 L754.5,464.5 L753.5,463.5" fill="none" stroke="#000" stroke-width="1.2" stroke-linejoin="round" stroke-linecap="square"/>
<polygon points="658.1,521 685.9,521 687.9,523 687.9,537.6 685.9,539.6 658.1,539.6 656.1,537.6 656.1,523" fill="#000" />
<polygon points="686.916,525.389 683.262,522.594 691.706,513.693 693.294,514.907" fill="#000" />
<polygon points="660,522.9 685.1,522.9 686.3,524.1 686.3,535.9 685.1,537.1 660,537.1 658.8,535.9 658.8,524.1" fill="#fff" />
<polygon points="684.773,525.639 683.582,524.727 688.611,519.139 688.849,519.321" fill="#fff" />
<path d="M662.5,533.5 L662.5,524.5 L665.5,524.5 L666.5,525.5 L666.5,527.5 L665.5,528.5 L662.5,528.5 M671.5,527.5 L673.5,527.5 M673.5,525.5 L673.5,533.5 M679.5,525.5 L681.5,527.5 L681.5,531.5 L679.5,533.5 L677.5,531.5 L677.5,527.5 Z" fill="none" stroke="#000" stroke-width="1.2" stroke-linejoin="round" stroke-linecap="square"/>
<path d="M631.5,108.5 L631.5,100.5 L633.5,105.5 L635.5,100.5 L635.5,108.5 M640.5,100.5 L640.5,108.5 M644.5,100.5 L644.5,108.5 M640.5,104.5 L644.5,104.5 M649.5,101.5 L651.5,103.5 L651.5,106.5 L649.5,108.5 L647.5,106.5 L647.5,103.5 Z M654.5,101.5 L658.5,101.5 L656.5,108.5 M665.5,104.5 L664.5,104.5 L662.5,104.5 L661.5,104.5 L661.5,102.5 L662.5,101.5 L664.5,101.5 L665.5,102.5 L665.5,107.5 L664.5,108.5 L662.5,108.5 L661.5,107.5 M670.5,108.5 L670.5,101.5 L667.5,106.5 L671.5,106.5" fill="none" stroke="#000" stroke-width="1.1" stroke-linejoin="round" stroke-linecap="square"/>
<rect x="631" y="100.2" width="1.8" height="8.6" fill="#000" />
</svg>
</body></html>
